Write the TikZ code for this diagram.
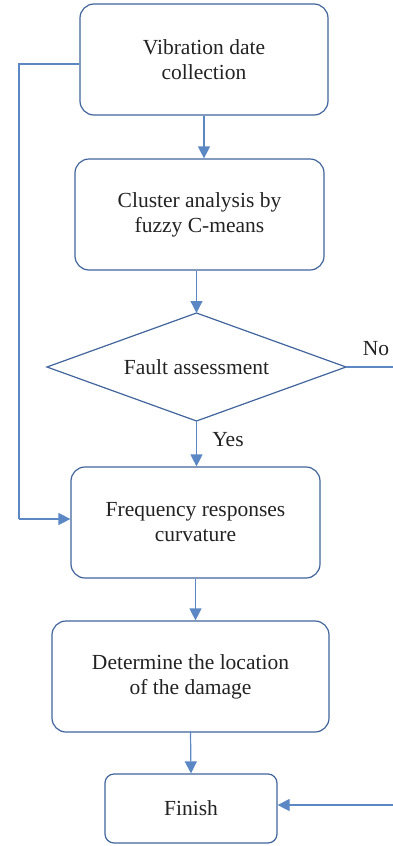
\documentclass[tikz,border=0pt]{standalone}
\usepackage{fontspec}
\setmainfont{Liberation Serif}
\usetikzlibrary{arrows.meta}
\definecolor{boxline}{HTML}{41649C}
\definecolor{conn}{HTML}{5B87C5}
\definecolor{txt}{HTML}{222222}
\begin{document}
\begin{tikzpicture}[x=1pt,y=-1pt,
  box/.style={draw=boxline,line width=1.2pt,rounded corners=14pt,align=center,
    text=txt,font=\fontsize{21.5}{25}\selectfont,inner sep=0pt},
  diaedge/.style={draw=boxline,line width=1.2pt,line join=miter},
  conn/.style={draw=conn,line width=1.2pt},
  arr/.style={conn,-{Triangle[length=12pt,width=12pt]}},
  lab/.style={text=txt,font=\fontsize{21.5}{25}\selectfont}]
\useasboundingbox (0,0) rectangle (393,846);
\node[box,minimum width=248pt,minimum height=111pt] (b1) at (204,59.5) {Vibration date\\collection};
\node[box,minimum width=249pt,minimum height=111pt] (b2) at (199.5,214.5) {Cluster analysis by\\fuzzy C-means};
\coordinate (dN) at (196.5,313);
\coordinate (dS) at (196.5,421);
\coordinate (dW) at (47,367);
\coordinate (dE) at (346,367);
\draw[diaedge] (dN) -- (dE) -- (dS) -- (dW) -- cycle;
\node[lab] (d) at (196.5,367) {Fault assessment};
\node[box,minimum width=249pt,minimum height=111pt] (b3) at (195.5,522.5) {Frequency responses\\curvature};
\node[box,minimum width=277pt,minimum height=111pt] (b4) at (190.5,676.5) {Determine the location\\of the damage};
\node[box,rounded corners=9pt,minimum width=172pt,minimum height=69pt] (b5) at (191,808.5) {Finish};
\node[lab] (no) at (376,349) {No};
\node[lab] (yes) at (228,440) {Yes};
\coordinate (L) at (19,64);
\coordinate (N) at (393,367);
\coordinate (R) at (393,805);
\draw[arr] (b1.south) -- (b1.south |- b2.north);
\draw[arr] (dN |- b2.south) -- (dN);
\draw[arr] (dS) -- (dS |- b3.north);
\draw[arr] (b3.south) -- (b3.south |- b4.north);
\draw[arr] (b5.north -| b4.south) ++(0,-42) -- (b5.north);
\draw[conn] (L -| b1.west) -- (L) -- (L |- 0,519) coordinate (L2);
\draw[arr] (L2) -- (L2 -| b3.west);
\draw[conn] (dE) -- (N);
\draw[arr] (R) -- (R -| b5.east);
\end{tikzpicture}
\end{document}
